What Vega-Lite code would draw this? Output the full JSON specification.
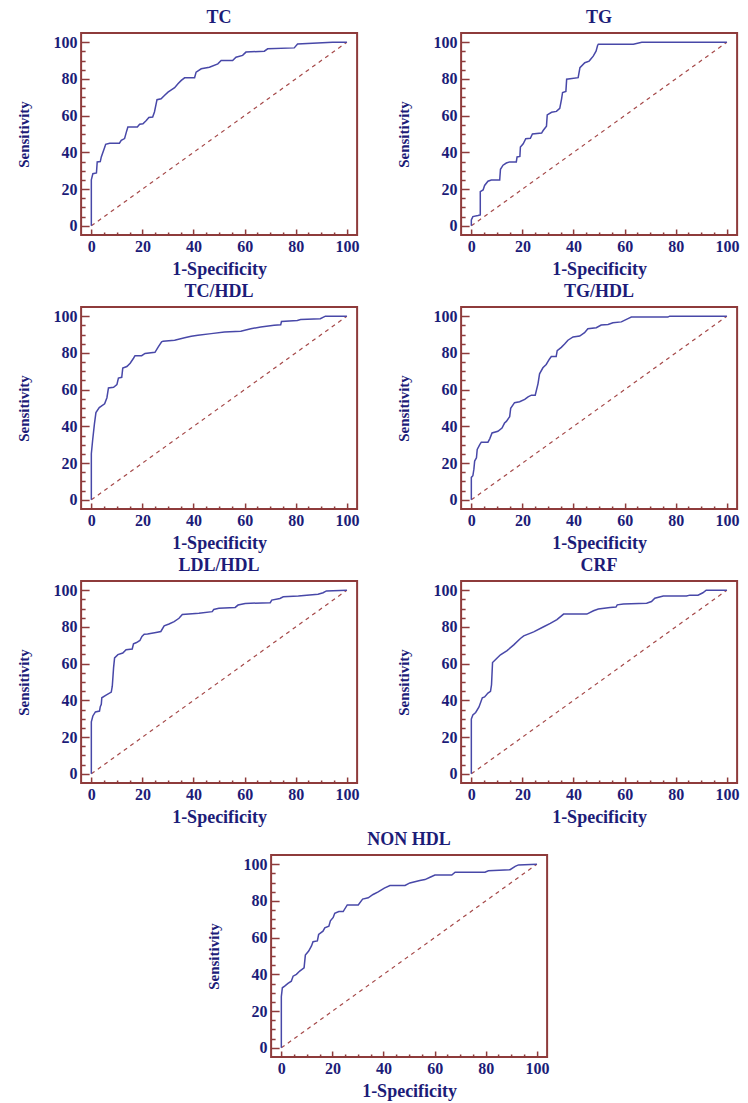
{
  "$schema": "https://vega.github.io/schema/vega-lite/v6.json",
  "background": "white",
  "padding": {"left": 15, "top": 8, "right": 5, "bottom": 5},
  "datasets": {
    "diag": [{"x": 0, "y": 0}, {"x": 100, "y": 100}],
    "roc": [
      {"g": "TC", "x": 0, "y": 0}, {"g": "TC", "x": 0, "y": 25}, {"g": "TC", "x": 0.6, "y": 28.4}, {"g": "TC", "x": 2, "y": 28.8}, {"g": "TC", "x": 2.3, "y": 34.8}, {"g": "TC", "x": 3.5, "y": 35}, {"g": "TC", "x": 3.9, "y": 37.5}, {"g": "TC", "x": 5.3, "y": 43}, {"g": "TC", "x": 5.6, "y": 44.4}, {"g": "TC", "x": 7.2, "y": 45}, {"g": "TC", "x": 11, "y": 45}, {"g": "TC", "x": 11.7, "y": 46.5}, {"g": "TC", "x": 13, "y": 47.5}, {"g": "TC", "x": 13.7, "y": 51}, {"g": "TC", "x": 14.3, "y": 53.8}, {"g": "TC", "x": 18, "y": 53.8}, {"g": "TC", "x": 18.9, "y": 55.3}, {"g": "TC", "x": 20.2, "y": 55.6}, {"g": "TC", "x": 21.5, "y": 57.4}, {"g": "TC", "x": 22.5, "y": 59}, {"g": "TC", "x": 24, "y": 59.2}, {"g": "TC", "x": 24.7, "y": 62}, {"g": "TC", "x": 25.7, "y": 68.7}, {"g": "TC", "x": 27.3, "y": 69.2}, {"g": "TC", "x": 28.6, "y": 71}, {"g": "TC", "x": 30, "y": 72.8}, {"g": "TC", "x": 31.3, "y": 74}, {"g": "TC", "x": 32.6, "y": 75.2}, {"g": "TC", "x": 33.9, "y": 77.4}, {"g": "TC", "x": 35.2, "y": 79.2}, {"g": "TC", "x": 36.5, "y": 80.6}, {"g": "TC", "x": 40.4, "y": 80.6}, {"g": "TC", "x": 41, "y": 83.7}, {"g": "TC", "x": 43, "y": 85.5}, {"g": "TC", "x": 46.2, "y": 86.4}, {"g": "TC", "x": 49.5, "y": 88.2}, {"g": "TC", "x": 50.8, "y": 90}, {"g": "TC", "x": 55.3, "y": 90}, {"g": "TC", "x": 56.6, "y": 91.8}, {"g": "TC", "x": 59.2, "y": 92.8}, {"g": "TC", "x": 60.5, "y": 94.6}, {"g": "TC", "x": 67.7, "y": 95.1}, {"g": "TC", "x": 69, "y": 96.4}, {"g": "TC", "x": 79.4, "y": 96.9}, {"g": "TC", "x": 80.7, "y": 99}, {"g": "TC", "x": 94.4, "y": 100}, {"g": "TC", "x": 100, "y": 100},

      {"g": "TG", "x": 0, "y": 0}, {"g": "TG", "x": 0, "y": 3.2}, {"g": "TG", "x": 0.6, "y": 5}, {"g": "TG", "x": 2.6, "y": 5.6}, {"g": "TG", "x": 3.5, "y": 5.9}, {"g": "TG", "x": 3.5, "y": 18.6}, {"g": "TG", "x": 4.6, "y": 19.5}, {"g": "TG", "x": 5.2, "y": 22}, {"g": "TG", "x": 6.5, "y": 24.3}, {"g": "TG", "x": 7.8, "y": 24.9}, {"g": "TG", "x": 11.1, "y": 24.9}, {"g": "TG", "x": 11.4, "y": 30.8}, {"g": "TG", "x": 12.4, "y": 33}, {"g": "TG", "x": 13.7, "y": 34.2}, {"g": "TG", "x": 15, "y": 34.8}, {"g": "TG", "x": 17.6, "y": 34.8}, {"g": "TG", "x": 17.9, "y": 37.5}, {"g": "TG", "x": 19, "y": 37.8}, {"g": "TG", "x": 19.2, "y": 42.9}, {"g": "TG", "x": 20.3, "y": 44.7}, {"g": "TG", "x": 21.3, "y": 47.4}, {"g": "TG", "x": 23.1, "y": 47.7}, {"g": "TG", "x": 23.9, "y": 50}, {"g": "TG", "x": 27.5, "y": 50.5}, {"g": "TG", "x": 28.1, "y": 51.9}, {"g": "TG", "x": 29.4, "y": 54.2}, {"g": "TG", "x": 29.7, "y": 60.4}, {"g": "TG", "x": 31.4, "y": 61.8}, {"g": "TG", "x": 33.3, "y": 62.3}, {"g": "TG", "x": 34.6, "y": 64}, {"g": "TG", "x": 35.3, "y": 69}, {"g": "TG", "x": 35.7, "y": 72.6}, {"g": "TG", "x": 37, "y": 73.2}, {"g": "TG", "x": 37.3, "y": 79.8}, {"g": "TG", "x": 41.8, "y": 80.7}, {"g": "TG", "x": 42.5, "y": 86.1}, {"g": "TG", "x": 44.4, "y": 88.8}, {"g": "TG", "x": 46.1, "y": 89.7}, {"g": "TG", "x": 47.7, "y": 92.4}, {"g": "TG", "x": 48.8, "y": 95.1}, {"g": "TG", "x": 49.4, "y": 98.2}, {"g": "TG", "x": 49.7, "y": 98.9}, {"g": "TG", "x": 63.4, "y": 98.9}, {"g": "TG", "x": 66.7, "y": 100}, {"g": "TG", "x": 100, "y": 100},

      {"g": "TC/HDL", "x": 0, "y": 0}, {"g": "TC/HDL", "x": 0, "y": 25.1}, {"g": "TC/HDL", "x": 0.5, "y": 32.3}, {"g": "TC/HDL", "x": 1.2, "y": 41.2}, {"g": "TC/HDL", "x": 1.8, "y": 47.5}, {"g": "TC/HDL", "x": 3.1, "y": 50.2}, {"g": "TC/HDL", "x": 5.2, "y": 52.3}, {"g": "TC/HDL", "x": 6.1, "y": 55.6}, {"g": "TC/HDL", "x": 6.7, "y": 60.9}, {"g": "TC/HDL", "x": 8.7, "y": 61.3}, {"g": "TC/HDL", "x": 10, "y": 62.7}, {"g": "TC/HDL", "x": 10.6, "y": 66.3}, {"g": "TC/HDL", "x": 11.9, "y": 66.7}, {"g": "TC/HDL", "x": 12.3, "y": 71.7}, {"g": "TC/HDL", "x": 13.9, "y": 72.6}, {"g": "TC/HDL", "x": 15.2, "y": 74.4}, {"g": "TC/HDL", "x": 16.5, "y": 77.1}, {"g": "TC/HDL", "x": 17.1, "y": 78.5}, {"g": "TC/HDL", "x": 19.7, "y": 78.5}, {"g": "TC/HDL", "x": 21, "y": 79.7}, {"g": "TC/HDL", "x": 24.9, "y": 80.3}, {"g": "TC/HDL", "x": 26.2, "y": 83.3}, {"g": "TC/HDL", "x": 27.5, "y": 86}, {"g": "TC/HDL", "x": 28.1, "y": 86.4}, {"g": "TC/HDL", "x": 32.6, "y": 86.9}, {"g": "TC/HDL", "x": 36.5, "y": 88.2}, {"g": "TC/HDL", "x": 39.1, "y": 89.1}, {"g": "TC/HDL", "x": 41.7, "y": 89.6}, {"g": "TC/HDL", "x": 46.9, "y": 90.5}, {"g": "TC/HDL", "x": 52.1, "y": 91.4}, {"g": "TC/HDL", "x": 58.5, "y": 91.8}, {"g": "TC/HDL", "x": 62.4, "y": 93.2}, {"g": "TC/HDL", "x": 66.3, "y": 94.1}, {"g": "TC/HDL", "x": 71.5, "y": 95}, {"g": "TC/HDL", "x": 74.1, "y": 95.3}, {"g": "TC/HDL", "x": 74.4, "y": 97.1}, {"g": "TC/HDL", "x": 80.6, "y": 97.7}, {"g": "TC/HDL", "x": 81.9, "y": 98.2}, {"g": "TC/HDL", "x": 89.6, "y": 98.6}, {"g": "TC/HDL", "x": 91.6, "y": 100}, {"g": "TC/HDL", "x": 100, "y": 100},

      {"g": "TG/HDL", "x": 0, "y": 0}, {"g": "TG/HDL", "x": 0, "y": 12.2}, {"g": "TG/HDL", "x": 0.6, "y": 13.1}, {"g": "TG/HDL", "x": 1, "y": 16.7}, {"g": "TG/HDL", "x": 1.3, "y": 21.1}, {"g": "TG/HDL", "x": 2, "y": 22.9}, {"g": "TG/HDL", "x": 2.3, "y": 27.4}, {"g": "TG/HDL", "x": 3.3, "y": 30.1}, {"g": "TG/HDL", "x": 3.9, "y": 31.4}, {"g": "TG/HDL", "x": 6.5, "y": 31.4}, {"g": "TG/HDL", "x": 7.2, "y": 33.2}, {"g": "TG/HDL", "x": 8.1, "y": 36.4}, {"g": "TG/HDL", "x": 10.4, "y": 37.3}, {"g": "TG/HDL", "x": 12, "y": 39.1}, {"g": "TG/HDL", "x": 13, "y": 41.8}, {"g": "TG/HDL", "x": 13.7, "y": 42.7}, {"g": "TG/HDL", "x": 15, "y": 45.3}, {"g": "TG/HDL", "x": 15.4, "y": 49.8}, {"g": "TG/HDL", "x": 16.9, "y": 52.9}, {"g": "TG/HDL", "x": 18.9, "y": 53.4}, {"g": "TG/HDL", "x": 20.9, "y": 54.7}, {"g": "TG/HDL", "x": 22.2, "y": 56.1}, {"g": "TG/HDL", "x": 23.5, "y": 57}, {"g": "TG/HDL", "x": 25, "y": 57}, {"g": "TG/HDL", "x": 26.1, "y": 63.3}, {"g": "TG/HDL", "x": 26.7, "y": 68.6}, {"g": "TG/HDL", "x": 28, "y": 71.9}, {"g": "TG/HDL", "x": 29.3, "y": 73.7}, {"g": "TG/HDL", "x": 30.6, "y": 76.7}, {"g": "TG/HDL", "x": 31.3, "y": 78}, {"g": "TG/HDL", "x": 33.2, "y": 78}, {"g": "TG/HDL", "x": 33.6, "y": 81.2}, {"g": "TG/HDL", "x": 35.2, "y": 83}, {"g": "TG/HDL", "x": 36.5, "y": 84.8}, {"g": "TG/HDL", "x": 37.8, "y": 86.9}, {"g": "TG/HDL", "x": 39.8, "y": 88.7}, {"g": "TG/HDL", "x": 42.4, "y": 89.2}, {"g": "TG/HDL", "x": 44.3, "y": 91}, {"g": "TG/HDL", "x": 45.6, "y": 93.2}, {"g": "TG/HDL", "x": 48.9, "y": 93.7}, {"g": "TG/HDL", "x": 50.8, "y": 95.2}, {"g": "TG/HDL", "x": 53.5, "y": 95.5}, {"g": "TG/HDL", "x": 55.4, "y": 96.4}, {"g": "TG/HDL", "x": 58.7, "y": 96.9}, {"g": "TG/HDL", "x": 61.3, "y": 98.7}, {"g": "TG/HDL", "x": 62.6, "y": 99.5}, {"g": "TG/HDL", "x": 76.9, "y": 99.5}, {"g": "TG/HDL", "x": 77.6, "y": 100}, {"g": "TG/HDL", "x": 100, "y": 100},

      {"g": "LDL/HDL", "x": 0, "y": 0}, {"g": "LDL/HDL", "x": 0, "y": 28.3}, {"g": "LDL/HDL", "x": 0.6, "y": 31.5}, {"g": "LDL/HDL", "x": 1.6, "y": 33.7}, {"g": "LDL/HDL", "x": 3.2, "y": 34.2}, {"g": "LDL/HDL", "x": 3.5, "y": 36.6}, {"g": "LDL/HDL", "x": 3.9, "y": 37.8}, {"g": "LDL/HDL", "x": 4.1, "y": 41.4}, {"g": "LDL/HDL", "x": 5.6, "y": 42.7}, {"g": "LDL/HDL", "x": 7.8, "y": 44.5}, {"g": "LDL/HDL", "x": 8.2, "y": 47.7}, {"g": "LDL/HDL", "x": 8.7, "y": 57.7}, {"g": "LDL/HDL", "x": 9.1, "y": 63.1}, {"g": "LDL/HDL", "x": 10.4, "y": 64.9}, {"g": "LDL/HDL", "x": 12.3, "y": 65.8}, {"g": "LDL/HDL", "x": 13.6, "y": 67.6}, {"g": "LDL/HDL", "x": 16, "y": 68}, {"g": "LDL/HDL", "x": 16.5, "y": 70.8}, {"g": "LDL/HDL", "x": 17.7, "y": 71.5}, {"g": "LDL/HDL", "x": 19, "y": 72.6}, {"g": "LDL/HDL", "x": 19.8, "y": 74.8}, {"g": "LDL/HDL", "x": 20.7, "y": 76}, {"g": "LDL/HDL", "x": 22, "y": 76.2}, {"g": "LDL/HDL", "x": 25.3, "y": 77}, {"g": "LDL/HDL", "x": 27.2, "y": 77.5}, {"g": "LDL/HDL", "x": 28.5, "y": 80.6}, {"g": "LDL/HDL", "x": 30.4, "y": 81.6}, {"g": "LDL/HDL", "x": 32.4, "y": 82.9}, {"g": "LDL/HDL", "x": 34.3, "y": 84.7}, {"g": "LDL/HDL", "x": 35.6, "y": 86.8}, {"g": "LDL/HDL", "x": 42.1, "y": 87.4}, {"g": "LDL/HDL", "x": 47.3, "y": 88.3}, {"g": "LDL/HDL", "x": 47.9, "y": 89.5}, {"g": "LDL/HDL", "x": 49.9, "y": 90.1}, {"g": "LDL/HDL", "x": 56.3, "y": 90.6}, {"g": "LDL/HDL", "x": 57.4, "y": 91.9}, {"g": "LDL/HDL", "x": 60.2, "y": 92.8}, {"g": "LDL/HDL", "x": 70, "y": 93.2}, {"g": "LDL/HDL", "x": 70.6, "y": 94.6}, {"g": "LDL/HDL", "x": 73.8, "y": 95.5}, {"g": "LDL/HDL", "x": 75.1, "y": 96.4}, {"g": "LDL/HDL", "x": 81, "y": 96.8}, {"g": "LDL/HDL", "x": 88.7, "y": 97.8}, {"g": "LDL/HDL", "x": 90.7, "y": 98.6}, {"g": "LDL/HDL", "x": 92, "y": 99.6}, {"g": "LDL/HDL", "x": 100, "y": 100},

      {"g": "CRF", "x": 0, "y": 0}, {"g": "CRF", "x": 0, "y": 29.8}, {"g": "CRF", "x": 0.6, "y": 32.1}, {"g": "CRF", "x": 1.7, "y": 33.4}, {"g": "CRF", "x": 3, "y": 36.4}, {"g": "CRF", "x": 4.3, "y": 41.4}, {"g": "CRF", "x": 5.2, "y": 41.9}, {"g": "CRF", "x": 6.5, "y": 44}, {"g": "CRF", "x": 7.5, "y": 44.9}, {"g": "CRF", "x": 7.9, "y": 48.5}, {"g": "CRF", "x": 8.3, "y": 60.6}, {"g": "CRF", "x": 10.1, "y": 63.1}, {"g": "CRF", "x": 11.4, "y": 64.8}, {"g": "CRF", "x": 14, "y": 67.1}, {"g": "CRF", "x": 16.6, "y": 70.2}, {"g": "CRF", "x": 19.2, "y": 73.7}, {"g": "CRF", "x": 20.5, "y": 75.1}, {"g": "CRF", "x": 24.4, "y": 77.3}, {"g": "CRF", "x": 28.3, "y": 80.1}, {"g": "CRF", "x": 30.9, "y": 81.9}, {"g": "CRF", "x": 33.5, "y": 84}, {"g": "CRF", "x": 36.1, "y": 87}, {"g": "CRF", "x": 45.2, "y": 87}, {"g": "CRF", "x": 47.8, "y": 88.8}, {"g": "CRF", "x": 49.7, "y": 89.7}, {"g": "CRF", "x": 54.3, "y": 90.6}, {"g": "CRF", "x": 56.6, "y": 90.8}, {"g": "CRF", "x": 57.1, "y": 92}, {"g": "CRF", "x": 59.5, "y": 92.5}, {"g": "CRF", "x": 68.6, "y": 92.9}, {"g": "CRF", "x": 70.5, "y": 93.8}, {"g": "CRF", "x": 71.8, "y": 95.6}, {"g": "CRF", "x": 75.1, "y": 96.8}, {"g": "CRF", "x": 84.2, "y": 96.8}, {"g": "CRF", "x": 85.5, "y": 97.3}, {"g": "CRF", "x": 88.7, "y": 97.3}, {"g": "CRF", "x": 90.6, "y": 98.6}, {"g": "CRF", "x": 91.9, "y": 100}, {"g": "CRF", "x": 100, "y": 100},

      {"g": "NON HDL", "x": 0, "y": 0}, {"g": "NON HDL", "x": 0, "y": 27.9}, {"g": "NON HDL", "x": 0.4, "y": 32.7}, {"g": "NON HDL", "x": 1.3, "y": 33.6}, {"g": "NON HDL", "x": 2.6, "y": 35.1}, {"g": "NON HDL", "x": 3.9, "y": 36.3}, {"g": "NON HDL", "x": 4.6, "y": 39}, {"g": "NON HDL", "x": 5.9, "y": 40}, {"g": "NON HDL", "x": 7.2, "y": 41.8}, {"g": "NON HDL", "x": 8.9, "y": 43.6}, {"g": "NON HDL", "x": 9.4, "y": 50.5}, {"g": "NON HDL", "x": 10.7, "y": 52.7}, {"g": "NON HDL", "x": 11.8, "y": 55.5}, {"g": "NON HDL", "x": 12.4, "y": 57.8}, {"g": "NON HDL", "x": 14.1, "y": 58.2}, {"g": "NON HDL", "x": 14.6, "y": 61.7}, {"g": "NON HDL", "x": 16.3, "y": 63.5}, {"g": "NON HDL", "x": 17, "y": 65.3}, {"g": "NON HDL", "x": 18.6, "y": 66.2}, {"g": "NON HDL", "x": 19.2, "y": 69.2}, {"g": "NON HDL", "x": 20.3, "y": 71}, {"g": "NON HDL", "x": 20.9, "y": 73.3}, {"g": "NON HDL", "x": 22.5, "y": 74.2}, {"g": "NON HDL", "x": 24.2, "y": 74.2}, {"g": "NON HDL", "x": 25.8, "y": 77.8}, {"g": "NON HDL", "x": 30.1, "y": 77.8}, {"g": "NON HDL", "x": 31.8, "y": 81}, {"g": "NON HDL", "x": 34, "y": 81.7}, {"g": "NON HDL", "x": 35.9, "y": 83.5}, {"g": "NON HDL", "x": 37.9, "y": 84.9}, {"g": "NON HDL", "x": 40.3, "y": 87}, {"g": "NON HDL", "x": 42.5, "y": 88.4}, {"g": "NON HDL", "x": 48.4, "y": 88.4}, {"g": "NON HDL", "x": 50.3, "y": 89.8}, {"g": "NON HDL", "x": 54.2, "y": 91.1}, {"g": "NON HDL", "x": 56.2, "y": 91.6}, {"g": "NON HDL", "x": 58.2, "y": 92.9}, {"g": "NON HDL", "x": 60.1, "y": 94.1}, {"g": "NON HDL", "x": 66.7, "y": 94.1}, {"g": "NON HDL", "x": 68, "y": 95.6}, {"g": "NON HDL", "x": 79.7, "y": 95.6}, {"g": "NON HDL", "x": 81, "y": 96.4}, {"g": "NON HDL", "x": 89.5, "y": 97}, {"g": "NON HDL", "x": 91.5, "y": 98.8}, {"g": "NON HDL", "x": 92.8, "y": 99.6}, {"g": "NON HDL", "x": 100, "y": 100}
    ]
  },
  "vconcat": [
    {"hconcat": [
      {"title": "TC", "width": 276, "height": 202, "resolve": {"axis": {"x": "independent", "y": "independent"}}, "layer": [
        {"data": {"name": "diag"}, "mark": {"type": "line", "color": "#a54848", "strokeDash": [4, 4], "strokeWidth": 1.2}, "encoding": {"x": {"field": "x", "type": "quantitative", "scale": {"domain": [-4, 104], "nice": false}, "axis": {"orient": "bottom", "values": [5, 10, 15, 25, 30, 35, 45, 50, 55, 65, 70, 75, 85, 90, 95], "labels": false, "title": null, "tickSize": -3}}, "y": {"field": "y", "type": "quantitative", "scale": {"domain": [-5, 105], "nice": false}, "axis": {"orient": "left", "values": [5, 10, 15, 25, 30, 35, 45, 50, 55, 65, 70, 75, 85, 90, 95], "labels": false, "title": null, "tickSize": -4}}}},
        {"data": {"name": "roc"}, "transform": [{"filter": "datum.g === 'TC'"}], "mark": {"type": "line", "color": "#4848a8", "strokeWidth": 1.5}, "encoding": {"x": {"field": "x", "type": "quantitative", "scale": {"domain": [-4, 104], "nice": false}, "axis": {"orient": "bottom", "values": [0, 20, 40, 60, 80, 100], "title": "1-Specificity", "tickSize": -6}}, "y": {"field": "y", "type": "quantitative", "scale": {"domain": [-5, 105], "nice": false}, "axis": {"orient": "left", "values": [0, 20, 40, 60, 80, 100], "title": "Sensitivity", "tickSize": -8}}, "order": {"value": null}}}
      ]},
      {"title": "TG", "width": 276, "height": 202, "resolve": {"axis": {"x": "independent", "y": "independent"}}, "layer": [
        {"data": {"name": "diag"}, "mark": {"type": "line", "color": "#a54848", "strokeDash": [4, 4], "strokeWidth": 1.2}, "encoding": {"x": {"field": "x", "type": "quantitative", "scale": {"domain": [-4, 104], "nice": false}, "axis": {"orient": "bottom", "values": [5, 10, 15, 25, 30, 35, 45, 50, 55, 65, 70, 75, 85, 90, 95], "labels": false, "title": null, "tickSize": -3}}, "y": {"field": "y", "type": "quantitative", "scale": {"domain": [-5, 105], "nice": false}, "axis": {"orient": "left", "values": [5, 10, 15, 25, 30, 35, 45, 50, 55, 65, 70, 75, 85, 90, 95], "labels": false, "title": null, "tickSize": -4}}}},
        {"data": {"name": "roc"}, "transform": [{"filter": "datum.g === 'TG'"}], "mark": {"type": "line", "color": "#4848a8", "strokeWidth": 1.5}, "encoding": {"x": {"field": "x", "type": "quantitative", "scale": {"domain": [-4, 104], "nice": false}, "axis": {"orient": "bottom", "values": [0, 20, 40, 60, 80, 100], "title": "1-Specificity", "tickSize": -6}}, "y": {"field": "y", "type": "quantitative", "scale": {"domain": [-5, 105], "nice": false}, "axis": {"orient": "left", "values": [0, 20, 40, 60, 80, 100], "title": "Sensitivity", "tickSize": -8}}, "order": {"value": null}}}
      ]}
    ]},
    {"hconcat": [
      {"title": "TC/HDL", "width": 276, "height": 202, "resolve": {"axis": {"x": "independent", "y": "independent"}}, "layer": [
        {"data": {"name": "diag"}, "mark": {"type": "line", "color": "#a54848", "strokeDash": [4, 4], "strokeWidth": 1.2}, "encoding": {"x": {"field": "x", "type": "quantitative", "scale": {"domain": [-4, 104], "nice": false}, "axis": {"orient": "bottom", "values": [5, 10, 15, 25, 30, 35, 45, 50, 55, 65, 70, 75, 85, 90, 95], "labels": false, "title": null, "tickSize": -3}}, "y": {"field": "y", "type": "quantitative", "scale": {"domain": [-5, 105], "nice": false}, "axis": {"orient": "left", "values": [5, 10, 15, 25, 30, 35, 45, 50, 55, 65, 70, 75, 85, 90, 95], "labels": false, "title": null, "tickSize": -4}}}},
        {"data": {"name": "roc"}, "transform": [{"filter": "datum.g === 'TC/HDL'"}], "mark": {"type": "line", "color": "#4848a8", "strokeWidth": 1.5}, "encoding": {"x": {"field": "x", "type": "quantitative", "scale": {"domain": [-4, 104], "nice": false}, "axis": {"orient": "bottom", "values": [0, 20, 40, 60, 80, 100], "title": "1-Specificity", "tickSize": -6}}, "y": {"field": "y", "type": "quantitative", "scale": {"domain": [-5, 105], "nice": false}, "axis": {"orient": "left", "values": [0, 20, 40, 60, 80, 100], "title": "Sensitivity", "tickSize": -8}}, "order": {"value": null}}}
      ]},
      {"title": "TG/HDL", "width": 276, "height": 202, "resolve": {"axis": {"x": "independent", "y": "independent"}}, "layer": [
        {"data": {"name": "diag"}, "mark": {"type": "line", "color": "#a54848", "strokeDash": [4, 4], "strokeWidth": 1.2}, "encoding": {"x": {"field": "x", "type": "quantitative", "scale": {"domain": [-4, 104], "nice": false}, "axis": {"orient": "bottom", "values": [5, 10, 15, 25, 30, 35, 45, 50, 55, 65, 70, 75, 85, 90, 95], "labels": false, "title": null, "tickSize": -3}}, "y": {"field": "y", "type": "quantitative", "scale": {"domain": [-5, 105], "nice": false}, "axis": {"orient": "left", "values": [5, 10, 15, 25, 30, 35, 45, 50, 55, 65, 70, 75, 85, 90, 95], "labels": false, "title": null, "tickSize": -4}}}},
        {"data": {"name": "roc"}, "transform": [{"filter": "datum.g === 'TG/HDL'"}], "mark": {"type": "line", "color": "#4848a8", "strokeWidth": 1.5}, "encoding": {"x": {"field": "x", "type": "quantitative", "scale": {"domain": [-4, 104], "nice": false}, "axis": {"orient": "bottom", "values": [0, 20, 40, 60, 80, 100], "title": "1-Specificity", "tickSize": -6}}, "y": {"field": "y", "type": "quantitative", "scale": {"domain": [-5, 105], "nice": false}, "axis": {"orient": "left", "values": [0, 20, 40, 60, 80, 100], "title": "Sensitivity", "tickSize": -8}}, "order": {"value": null}}}
      ]}
    ]},
    {"hconcat": [
      {"title": "LDL/HDL", "width": 276, "height": 202, "resolve": {"axis": {"x": "independent", "y": "independent"}}, "layer": [
        {"data": {"name": "diag"}, "mark": {"type": "line", "color": "#a54848", "strokeDash": [4, 4], "strokeWidth": 1.2}, "encoding": {"x": {"field": "x", "type": "quantitative", "scale": {"domain": [-4, 104], "nice": false}, "axis": {"orient": "bottom", "values": [5, 10, 15, 25, 30, 35, 45, 50, 55, 65, 70, 75, 85, 90, 95], "labels": false, "title": null, "tickSize": -3}}, "y": {"field": "y", "type": "quantitative", "scale": {"domain": [-5, 105], "nice": false}, "axis": {"orient": "left", "values": [5, 10, 15, 25, 30, 35, 45, 50, 55, 65, 70, 75, 85, 90, 95], "labels": false, "title": null, "tickSize": -4}}}},
        {"data": {"name": "roc"}, "transform": [{"filter": "datum.g === 'LDL/HDL'"}], "mark": {"type": "line", "color": "#4848a8", "strokeWidth": 1.5}, "encoding": {"x": {"field": "x", "type": "quantitative", "scale": {"domain": [-4, 104], "nice": false}, "axis": {"orient": "bottom", "values": [0, 20, 40, 60, 80, 100], "title": "1-Specificity", "tickSize": -6}}, "y": {"field": "y", "type": "quantitative", "scale": {"domain": [-5, 105], "nice": false}, "axis": {"orient": "left", "values": [0, 20, 40, 60, 80, 100], "title": "Sensitivity", "tickSize": -8}}, "order": {"value": null}}}
      ]},
      {"title": "CRF", "width": 276, "height": 202, "resolve": {"axis": {"x": "independent", "y": "independent"}}, "layer": [
        {"data": {"name": "diag"}, "mark": {"type": "line", "color": "#a54848", "strokeDash": [4, 4], "strokeWidth": 1.2}, "encoding": {"x": {"field": "x", "type": "quantitative", "scale": {"domain": [-4, 104], "nice": false}, "axis": {"orient": "bottom", "values": [5, 10, 15, 25, 30, 35, 45, 50, 55, 65, 70, 75, 85, 90, 95], "labels": false, "title": null, "tickSize": -3}}, "y": {"field": "y", "type": "quantitative", "scale": {"domain": [-5, 105], "nice": false}, "axis": {"orient": "left", "values": [5, 10, 15, 25, 30, 35, 45, 50, 55, 65, 70, 75, 85, 90, 95], "labels": false, "title": null, "tickSize": -4}}}},
        {"data": {"name": "roc"}, "transform": [{"filter": "datum.g === 'CRF'"}], "mark": {"type": "line", "color": "#4848a8", "strokeWidth": 1.5}, "encoding": {"x": {"field": "x", "type": "quantitative", "scale": {"domain": [-4, 104], "nice": false}, "axis": {"orient": "bottom", "values": [0, 20, 40, 60, 80, 100], "title": "1-Specificity", "tickSize": -6}}, "y": {"field": "y", "type": "quantitative", "scale": {"domain": [-5, 105], "nice": false}, "axis": {"orient": "left", "values": [0, 20, 40, 60, 80, 100], "title": "Sensitivity", "tickSize": -8}}, "order": {"value": null}}}
      ]}
    ]},
    {"title": "NON HDL", "width": 276, "height": 202, "resolve": {"axis": {"x": "independent", "y": "independent"}}, "layer": [
      {"data": {"name": "diag"}, "mark": {"type": "line", "color": "#a54848", "strokeDash": [4, 4], "strokeWidth": 1.2}, "encoding": {"x": {"field": "x", "type": "quantitative", "scale": {"domain": [-4, 104], "nice": false}, "axis": {"orient": "bottom", "values": [5, 10, 15, 25, 30, 35, 45, 50, 55, 65, 70, 75, 85, 90, 95], "labels": false, "title": null, "tickSize": -3}}, "y": {"field": "y", "type": "quantitative", "scale": {"domain": [-5, 105], "nice": false}, "axis": {"orient": "left", "values": [5, 10, 15, 25, 30, 35, 45, 50, 55, 65, 70, 75, 85, 90, 95], "labels": false, "title": null, "tickSize": -4}}}},
      {"data": {"name": "roc"}, "transform": [{"filter": "datum.g === 'NON HDL'"}], "mark": {"type": "line", "color": "#4848a8", "strokeWidth": 1.5}, "encoding": {"x": {"field": "x", "type": "quantitative", "scale": {"domain": [-4, 104], "nice": false}, "axis": {"orient": "bottom", "values": [0, 20, 40, 60, 80, 100], "title": "1-Specificity", "tickSize": -6}}, "y": {"field": "y", "type": "quantitative", "scale": {"domain": [-5, 105], "nice": false}, "axis": {"orient": "left", "values": [0, 20, 40, 60, 80, 100], "title": "Sensitivity", "tickSize": -8}}, "order": {"value": null}}}
    ]}
  ],
  "spacing": 3,
  "center": true,
  "config": {
    "concat": {"spacing": 35},
    "view": {"stroke": "#8e3b3b", "strokeWidth": 2},
    "axis": {"domain": false, "grid": false, "tickColor": "#8e3b3b", "tickWidth": 1.5, "labelFont": "Liberation Serif", "labelFontWeight": "bold", "labelFontSize": 16, "labelColor": "#1c1c78", "titleFont": "Liberation Serif", "titleFontWeight": "bold", "titleColor": "#1c1c78"},
    "axisX": {"labelPadding": 9, "titleFontSize": 18, "titlePadding": 6},
    "axisY": {"labelPadding": 12, "titleFontSize": 15, "titlePadding": 22},
    "title": {"font": "Liberation Serif", "fontSize": 18, "fontWeight": "bold", "color": "#1c1c78", "offset": 6}
  }
}
